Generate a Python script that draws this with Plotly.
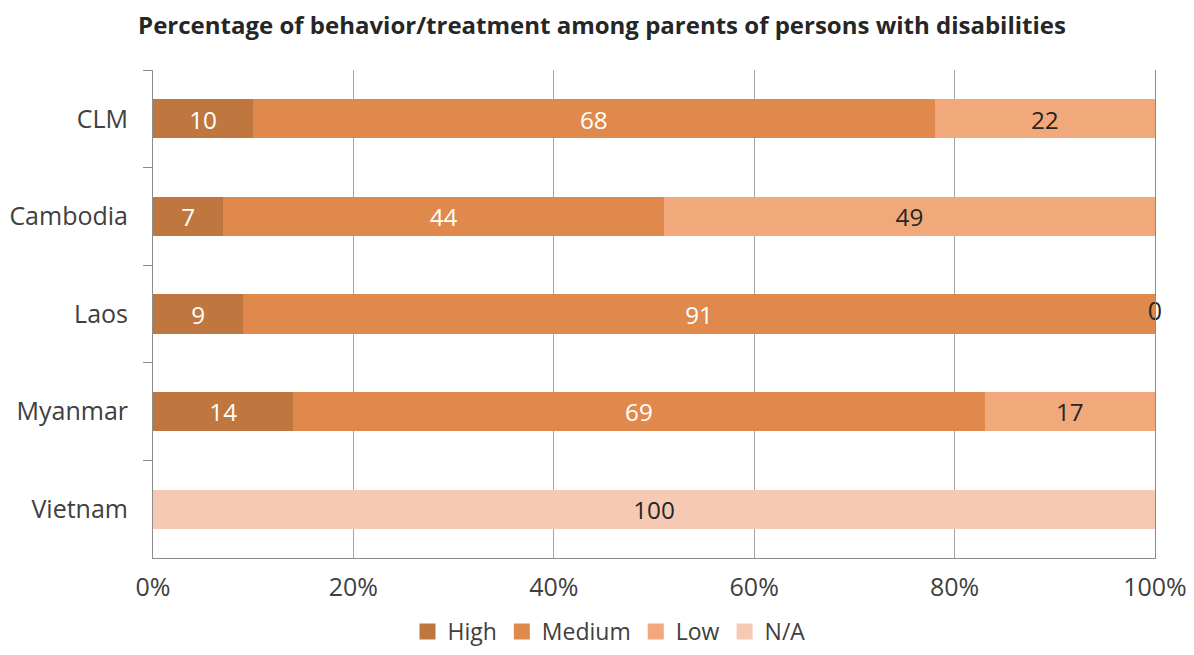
import plotly.graph_objects as go

countries = ["CLM", "Cambodia", "Laos", "Myanmar", "Vietnam"]
high = [10, 7, 9, 14, 0]
medium = [68, 44, 91, 69, 0]
low = [22, 49, 0, 17, 0]
na = [0, 0, 0, 0, 100]

series = [
    ("High", high, "#C0773F", "white"),
    ("Medium", medium, "#DF8A4C", "white"),
    ("Low", low, "#F1A97B", "#262626"),
    ("N/A", na, "#F6C9B2", "#262626"),
]

FONT = "Open Sans"
# page body has an 8px margin: figure is sized to fit the window
W, H = 1186, 647
L, R, T, B = 145, 39, 62, 97
PH = H - T - B

fig = go.Figure()
for name, vals, color, tcol in series:
    fig.add_trace(go.Bar(
        name=name, y=countries, x=vals, orientation="h",
        marker=dict(color=color, line=dict(width=0)),
        text=[str(v) if v > 0 else "" for v in vals],
        textposition="inside", insidetextanchor="middle",
        textfont=dict(color=tcol, size=25, family=FONT),
        textangle=0, showlegend=False,
        hoverinfo="skip",
    ))
for name, vals, color, tcol in series:
    fig.add_trace(go.Scatter(
        name=name, x=[None], y=[None], mode="markers",
        marker=dict(symbol="square", size=17, color=color),
        showlegend=True, hoverinfo="skip",
    ))

# zero-valued label shown as in the source (Low for Laos)
cum = [h + m for h, m in zip(high, medium)]
zx, zy, zt = [], [], []
for i, c in enumerate(countries):
    if low[i] == 0 and na[i] == 0:
        zx.append(cum[i] + low[i] / 2)
        zy.append(c)
        zt.append(str(low[i]))
fig.add_trace(go.Scatter(x=zx, y=zy, mode="text", text=zt, showlegend=False,
                         textfont=dict(color="#262626", size=25, family=FONT),
                         cliponaxis=False, hoverinfo="skip"))

fig.update_layout(
    barmode="stack",
    bargap=0.6,
    width=W, height=H,
    margin=dict(l=L, r=R, t=T, b=B, autoexpand=False),
    paper_bgcolor="white", plot_bgcolor="white",
    title=dict(text="<b>Percentage of behavior/treatment among parents of persons with disabilities</b>",
               x=(602 - 8) / W, xanchor="center", xref="container",
               y=1 - (26 - 8) / H, yanchor="middle", yref="container",
               font=dict(family=FONT, size=24, color="#262626")),
    legend=dict(orientation="h", x=(609 - 8 - L) / (W - L - R), xanchor="center",
                y=-(B - 2) / PH, yanchor="bottom",
                font=dict(family=FONT, size=23, color="#404040"),
                traceorder="normal", itemwidth=30,
                tracegroupgap=0),
    font=dict(family=FONT, color="#404040"),
)
fig.update_xaxes(
    range=[0, 100], tickvals=[0, 20, 40, 60, 80, 100],
    ticktext=["0%", "20%", "40%", "60%", "80%", "100%"],
    showgrid=True, gridcolor="#A6A6A6", gridwidth=1,
    showline=True, linecolor="#8C8C8C", linewidth=1,
    tickfont=dict(size=25, family=FONT, color="#404040"),
    ticks="", zeroline=False, fixedrange=True, automargin=False,
    ticklabelstandoff=7,
)
fig.update_yaxes(
    autorange="reversed", showline=True, linecolor="#8C8C8C", linewidth=1,
    mirror=True,
    ticks="outside", tickson="boundaries", ticklen=9, tickcolor="#8C8C8C",
    tickfont=dict(size=25, family=FONT, color="#404040"),
    showgrid=False, ticklabelstandoff=19, automargin=False,
)
fig.write_html("out.html")
